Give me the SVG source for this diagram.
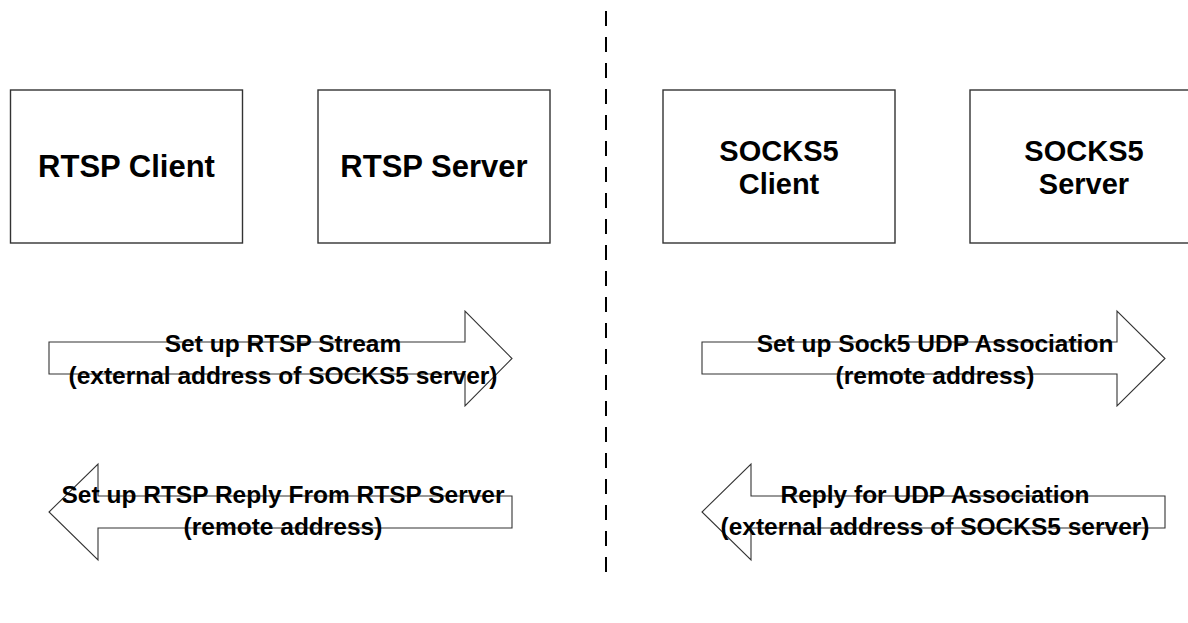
<svg xmlns="http://www.w3.org/2000/svg" width="1188" height="623" viewBox="0 0 1188 623">
<style>
.box{fill:#fff;stroke:#333;stroke-width:1.4}
.arr{fill:#fff;stroke:#333;stroke-width:1.1}
.big{font-family:"Liberation Sans",Arial,sans-serif;font-weight:bold;font-size:31px;fill:#000;text-anchor:middle}
.two{font-size:29px}
.lbl{font-family:"Liberation Sans",Arial,sans-serif;font-weight:bold;font-size:24.5px;fill:#000;text-anchor:middle}
.div{stroke:#000;stroke-width:2;stroke-dasharray:15 11;fill:none}
</style>
<rect width="1188" height="623" fill="#fff"/>
<line class="div" x1="606" y1="11" x2="606" y2="580"/>
<g id="rtsp-client"><rect class="box" x="10.5" y="90" width="232" height="153"/><text class="big" x="126.5" y="177">RTSP Client</text></g>
<g id="rtsp-server"><rect class="box" x="318" y="90" width="232" height="153"/><text class="big" x="434" y="177">RTSP Server</text></g>
<g id="socks5-client"><rect class="box" x="663" y="90" width="232" height="153"/><text class="big two" x="779" y="161">SOCKS5</text><text class="big two" x="779" y="193.5">Client</text></g>
<g id="socks5-server"><rect class="box" x="970" y="90" width="232" height="153"/><text class="big two" x="1084" y="161">SOCKS5</text><text class="big two" x="1084" y="193.5">Server</text></g>
<g id="connectors">
<g id="a1"><path class="arr" d="M49,342 L465,342 L465,311 L512,358.5 L465,406 L465,374 L49,374 Z"/><text class="lbl" x="283" y="352">Set up RTSP Stream</text><text class="lbl" x="283" y="384">(external address of SOCKS5 server)</text></g>
<g id="a2"><path class="arr" d="M512,496 L98,496 L98,464 L49,512 L98,560 L98,528 L512,528 Z"/><text class="lbl" x="283" y="503">Set up RTSP Reply From RTSP Server</text><text class="lbl" x="283" y="535">(remote address)</text></g>
<g id="a3"><path class="arr" d="M702,342 L1117,342 L1117,311 L1165,358.5 L1117,406 L1117,374 L702,374 Z"/><text class="lbl" x="935" y="352">Set up Sock5 UDP Association</text><text class="lbl" x="935" y="384">(remote address)</text></g>
<g id="a4"><path class="arr" d="M1165,496 L751,496 L751,464 L702,512 L751,560 L751,528 L1165,528 Z"/><text class="lbl" x="935" y="503">Reply for UDP Association</text><text class="lbl" x="935" y="535">(external address of SOCKS5 server)</text></g>
</g>
</svg>
